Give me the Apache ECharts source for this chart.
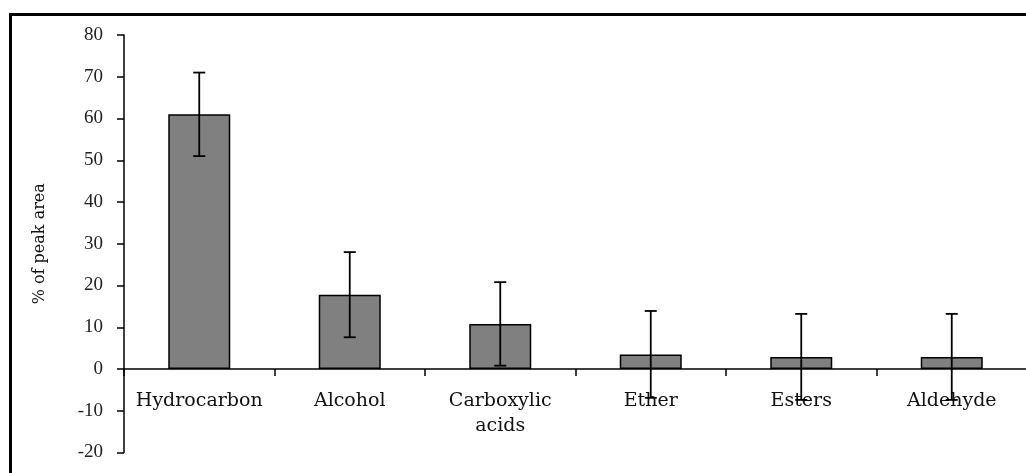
<!DOCTYPE html>
<html>
<head>
<meta charset="utf-8">
<script src="https://cdn.jsdelivr.net/npm/echarts@6/dist/echarts.min.js"></script>
<style>html,body{margin:0;padding:0;background:#fff;}#c{width:1026px;height:473px;}</style>
</head>
<body>
<div id="c"></div>
<script>
var categories = ['Hydrocarbon', 'Alcohol', 'Carboxylic\nacids', 'Ether', 'Esters', 'Aldehyde'];
var values = [61, 17.8, 10.8, 3.5, 2.9, 2.9];
var errors = [10, 10.2, 10, 10.4, 10.3, 10.3];
var yTicks = { min: -20, max: 80, interval: 10 };

var errData = values.map(function (v, i) { return [i, v - errors[i], v + errors[i]]; });

var GRID_BOTTOM = 20.5;
var chart = echarts.init(document.getElementById('c'));
chart.setOption({
  animation: false,
  backgroundColor: '#fff',
  grid: { left: 124, right: -1, top: 35, bottom: GRID_BOTTOM, containLabel: false, outerBoundsMode: 'none' },
  graphic: [{
    type: 'rect', z: 100,
    shape: { x: 10.5, y: 14.5, width: 1040, height: 480 },
    style: { fill: 'none', stroke: '#000', lineWidth: 3 }
  }],
  xAxis: {
    type: 'category',
    data: categories,
    position: 'bottom',
    offset: 0,
    axisLine: { onZero: false, lineStyle: { color: '#000', width: 1.5 } },
    axisTick: { show: true, length: 7, lineStyle: { color: '#000', width: 1.5 } },
    axisLabel: { color: '#111', fontFamily: 'DejaVu Serif', fontSize: 19, margin: 20, lineHeight: 25, interval: 0 }
  },
  yAxis: {
    type: 'value',
    min: yTicks.min, max: yTicks.max, interval: yTicks.interval,
    name: '% of peak area',
    nameLocation: 'middle',
    nameRotate: 90,
    nameGap: 76,
    nameTextStyle: { color: '#111', fontFamily: 'DejaVu Serif', fontSize: 16 },
    axisLine: { show: true, lineStyle: { color: '#000', width: 1.5 } },
    axisTick: { show: true, length: 7, lineStyle: { color: '#000', width: 1.5 } },
    splitLine: { show: false },
    axisLabel: { color: '#222', fontFamily: 'Liberation Serif', fontSize: 19, margin: 21 }
  },
  series: [{
    type: 'bar',
    data: values,
    barWidth: 62,
    itemStyle: { color: '#808080', borderColor: '#000', borderWidth: 1.5 }
  }, {
    type: 'custom',
    data: errData,
    z: 10,
    renderItem: function (params, api) {
      var x = api.value(0);
      var lo = api.coord([x, api.value(1)]);
      var hi = api.coord([x, api.value(2)]);
      var hw = 6;
      var st = { stroke: '#000', lineWidth: 1.8 };
      return {
        type: 'group',
        children: [
          { type: 'line', shape: { x1: hi[0], y1: hi[1], x2: lo[0], y2: lo[1] }, style: st },
          { type: 'line', shape: { x1: hi[0] - hw, y1: hi[1], x2: hi[0] + hw, y2: hi[1] }, style: st },
          { type: 'line', shape: { x1: lo[0] - hw, y1: lo[1], x2: lo[0] + hw, y2: lo[1] }, style: st }
        ]
      };
    }
  }]
});
// move the category axis (line, ticks, labels) up to the y = 0 level
var zeroY = chart.convertToPixel({ yAxisIndex: 0 }, 0);
var bottomY = chart.getHeight() - GRID_BOTTOM;
chart.setOption({ xAxis: { offset: -(bottomY - zeroY) } });
</script>
</body>
</html>
